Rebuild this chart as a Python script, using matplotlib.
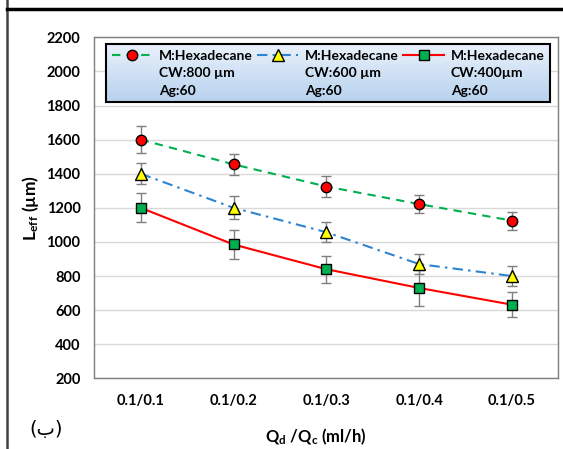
import numpy as np
import matplotlib
matplotlib.use("Agg")
import matplotlib.pyplot as plt
from matplotlib.lines import Line2D

plt.rcParams["font.family"] = ["Lato", "DejaVu Sans"]
plt.rcParams["mathtext.fontset"] = "custom"
plt.rcParams["mathtext.rm"] = "Lato"
plt.rcParams["mathtext.bf"] = "Lato:bold"

# data
ratios = ["0.1/0.1", "0.1/0.2", "0.1/0.3", "0.1/0.4", "0.1/0.5"]
cw800 = [1600, 1455, 1325, 1222, 1125]
cw800_err = [78, 62, 60, 53, 53]
cw600 = [1400, 1200, 1057, 870, 800]
cw600_err = [62, 68, 60, 60, 58]
cw400 = [1200, 985, 840, 730, 632]
cw400_err = [85, 86, 78, 108, 75]
labels = ["M:Hexadecane\nCW:800 \u00b5m\nAg:60",
          "M:Hexadecane\nCW:600 \u00b5m\nAg:60",
          "M:Hexadecane\nCW:400\u00b5m\nAg:60"]
yticks = list(range(200, 2201, 200))

x = np.arange(len(ratios))

fig = plt.figure(figsize=(5.63, 4.49), dpi=100)
ax = fig.add_axes([0.1675, 0.1574, 0.8242, 0.7595])

series = [
    (cw800, cw800_err, dict(color="#00b050", ls=(0, (4, 3)), marker="o",
                            mfc="#ff0000", ms=7.5)),
    (cw600, cw600_err, dict(color="#2e84d0", ls=(0, (5, 2.5, 1.2, 2.5)), marker="^",
                            mfc="#ffff00", ms=8.5)),
    (cw400, cw400_err, dict(color="#ff0000", ls="-", marker="s",
                            mfc="#00b050", ms=7)),
]

handles = []
for (vals, err, st), lab in zip(series, labels):
    ax.errorbar(x, vals, yerr=err, fmt="none", ecolor="#7f7f7f", elinewidth=1,
                capsize=3.5, capthick=1, zorder=2)
    h, = ax.plot(x, vals, lw=1.5, mec="black", mew=1, zorder=3, label=lab, **st)
    handles.append(h)

ax.set_xlim(-0.5, 4.5)
ax.set_ylim(200, 2200)
ax.set_xticks(x)
ax.set_xticklabels(ratios)
ax.set_yticks(yticks)
ax.tick_params(length=0, labelsize=10.5)
ax.tick_params(axis="x", pad=11)
ax.tick_params(axis="y", pad=10)
for t in ax.get_xticklabels() + ax.get_yticklabels():
    t.set_fontweight("bold")
ax.grid(axis="y", color="#d9d9d9", lw=1)
ax.set_axisbelow(True)
for sp in ax.spines.values():
    sp.set_color("#7f7f7f")
    sp.set_linewidth(1)

ax.set_ylabel("$\\mathbf{L_{eff}}$ (\u00b5m)", fontsize=12.5, fontweight="bold")
ax.yaxis.set_label_coords(-0.115, 0.5)
ax.set_xlabel(r"$\mathbf{Q_{d}}$ /$\mathbf{Q_{c}}$ (ml/h)", fontsize=12, fontweight="bold")
ax.xaxis.set_label_coords(0.477, -0.142)

fig.text(46 / 563, 1 - 429 / 449, "(\u0628)", fontsize=14, family="DejaVu Sans",
         ha="center", va="center")

leg = ax.legend(handles=handles, ncol=3, loc="upper left",
                bbox_to_anchor=(0.0252, 0.8044, 0.957, 0.1751), mode="expand",
                borderaxespad=0, prop={"weight": "bold", "size": 10},
                handlelength=2.9, handletextpad=0.5, columnspacing=0.8,
                borderpad=0.4, fancybox=False, framealpha=1)
frame = leg.get_frame()
frame.set_edgecolor("black")
frame.set_linewidth(1.5)
frame.set_facecolor("none")
for t in leg.get_texts():
    t.set_linespacing(1.55)
for col in leg._legend_handle_box.get_children():
    for row in col.get_children():
        row.align = "top"

# gradient background behind legend
fig.canvas.draw()
bb = frame.get_window_extent().transformed(ax.transAxes.inverted())
grad = np.linspace(0, 1, 64).reshape(-1, 1)
ax.imshow(grad, extent=[bb.x0, bb.x1, bb.y0, bb.y1], transform=ax.transAxes,
          cmap=matplotlib.colors.LinearSegmentedColormap.from_list(
              "g", ["#eaf2fb", "#b7d2ee"]),
          aspect="auto", zorder=4.9, origin="upper")
ax.set_xlim(-0.5, 4.5)
ax.set_ylim(200, 2200)

# outer frame lines
fig.add_artist(Line2D([7.5 / 563, 7.5 / 563], [0, 1], color="#404040", lw=1.8))
fig.add_artist(Line2D([7 / 563, 1], [1 - 9 / 449, 1 - 9 / 449], color="black", lw=2.5))

fig.savefig("out.png", dpi=100)
